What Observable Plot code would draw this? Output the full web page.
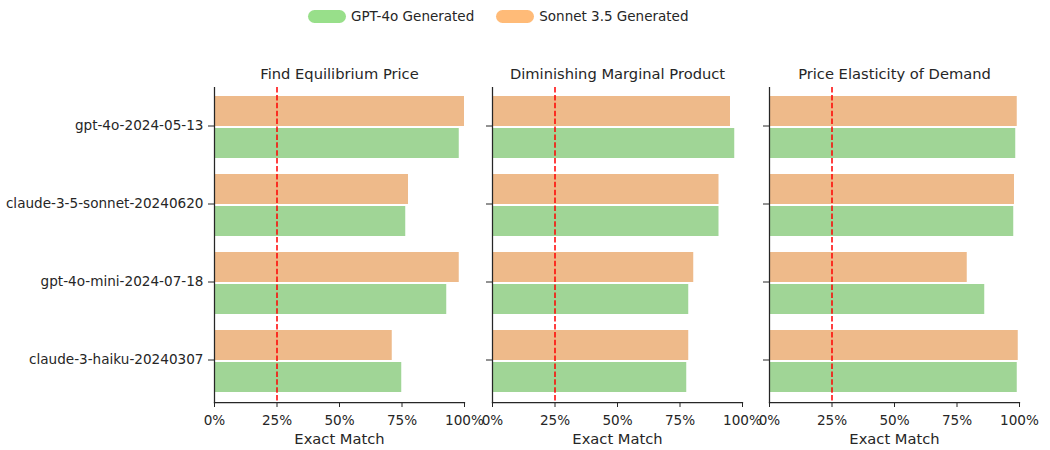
<!DOCTYPE html>
<html>
<head>
<meta charset="utf-8">
<script src="https://cdn.jsdelivr.net/npm/d3@7"></script>
<script src="https://cdn.jsdelivr.net/npm/@observablehq/plot@0.6"></script>
<style>
  html, body { margin: 0; padding: 0; background: #fff; }
  #root { position: relative; width: 1050px; height: 450px; font-family: "DejaVu Sans", sans-serif; color: #262626; overflow: hidden; }
  .panel { position: absolute; top: 50px; }
  .legend { position: absolute; top: 8px; left: 308px; display: flex; align-items: center; font-size: 13.5px; color: #262626; }
  .sw { width: 38px; height: 13px; border-radius: 6.5px; display: inline-block; margin-right: 5px; }
  .item { display: flex; align-items: center; margin-right: 22px; }
</style>
</head>
<body>
<div id="root"></div>
<script>
// ---- data ----
const models = ["gpt-4o-2024-05-13", "claude-3-5-sonnet-20240620", "gpt-4o-mini-2024-07-18", "claude-3-haiku-20240307"];
const tasks = ["Find Equilibrium Price", "Diminishing Marginal Product", "Price Elasticity of Demand"];
const seriesNames = ["GPT-4o Generated", "Sonnet 3.5 Generated"];
// Exact match (%) per task, in model order
const gpt4oGenerated = [
  [97.9, 76.5, 92.9, 74.9],
  [96.9, 90.6, 78.5, 77.7],
  [98.5, 97.7, 86.1, 99.1]
];
const sonnetGenerated = [
  [100.0, 77.6, 97.9, 71.1],
  [95.2, 90.6, 80.5, 78.5],
  [99.1, 98.0, 79.1, 99.5]
];
const xTicks = [0, 0.25, 0.5, 0.75, 1];
const chanceLevel = 0.25;
const barColors = ["#a0d596", "#eeba8a"];
const legendColors = ["#98df8a", "#ffbb78"];

// ---- legend ----
const root = document.getElementById("root");
const legend = document.createElement("div");
legend.className = "legend";
seriesNames.forEach((name, i) => {
  const it = document.createElement("div");
  it.className = "item";
  const sw = document.createElement("span");
  sw.className = "sw";
  sw.style.background = legendColors[i];
  it.appendChild(sw);
  it.appendChild(document.createTextNode(name));
  legend.appendChild(it);
});
root.appendChild(legend);

// ---- panels ----
const panelLeft = [0, 471.7, 749.3];
const ink = "#262626";
tasks.forEach((task, t) => {
  const first = t === 0;
  const rows = models.map((m, i) => ({
    model: m,
    gpt: gpt4oGenerated[t][i] / 100,
    sonnet: sonnetGenerated[t][i] / 100
  }));
  const chart = Plot.plot({
    width: first ? 484 : 290,
    height: 400,
    marginLeft: first ? 214 : 20,
    marginRight: 20,
    marginTop: 37,
    marginBottom: 48,
    style: { fontFamily: "DejaVu Sans, sans-serif", fontSize: "13.6px", color: ink, background: "transparent", overflow: "visible" },
    x: { domain: [0, 1], axis: null },
    y: { domain: models, paddingInner: 0.2, paddingOuter: 0.1, axis: null },
    marks: [
      Plot.barX(rows, { y: "model", x: "sonnet", fill: barColors[1], insetBottom: 32 }),
      Plot.barX(rows, { y: "model", x: "gpt", fill: barColors[0], insetTop: 32 }),
      Plot.ruleX([chanceLevel], { stroke: "red", strokeWidth: 1.5, strokeDasharray: "5.5,2.4" }),
      Plot.frame({ anchor: "left", stroke: ink, strokeWidth: 1.25 }),
      Plot.frame({ anchor: "bottom", stroke: ink, strokeWidth: 1.25 }),
      Plot.axisX({ ticks: xTicks, tickFormat: d3.format(".0%"), tickSize: 5, tickPadding: 8, label: null, fontSize: 13.6 }),
      Plot.axisY({ tickSize: 6, tickPadding: 5, label: null, fontSize: 13.6, dy: -1.5, tickFormat: first ? (d => d) : (() => "") }),
      Plot.text([task], { frameAnchor: "top", lineAnchor: "middle", dy: -13, text: d => d, fontSize: 14.7, fill: ink }),
      Plot.text(["Exact Match"], { frameAnchor: "bottom", lineAnchor: "middle", dy: 36.5, text: d => d, fontSize: 14.7, fill: ink })
    ]
  });
  chart.classList.add("panel");
  chart.style.left = panelLeft[t] + "px";
  root.appendChild(chart);
});
</script>
</body>
</html>
